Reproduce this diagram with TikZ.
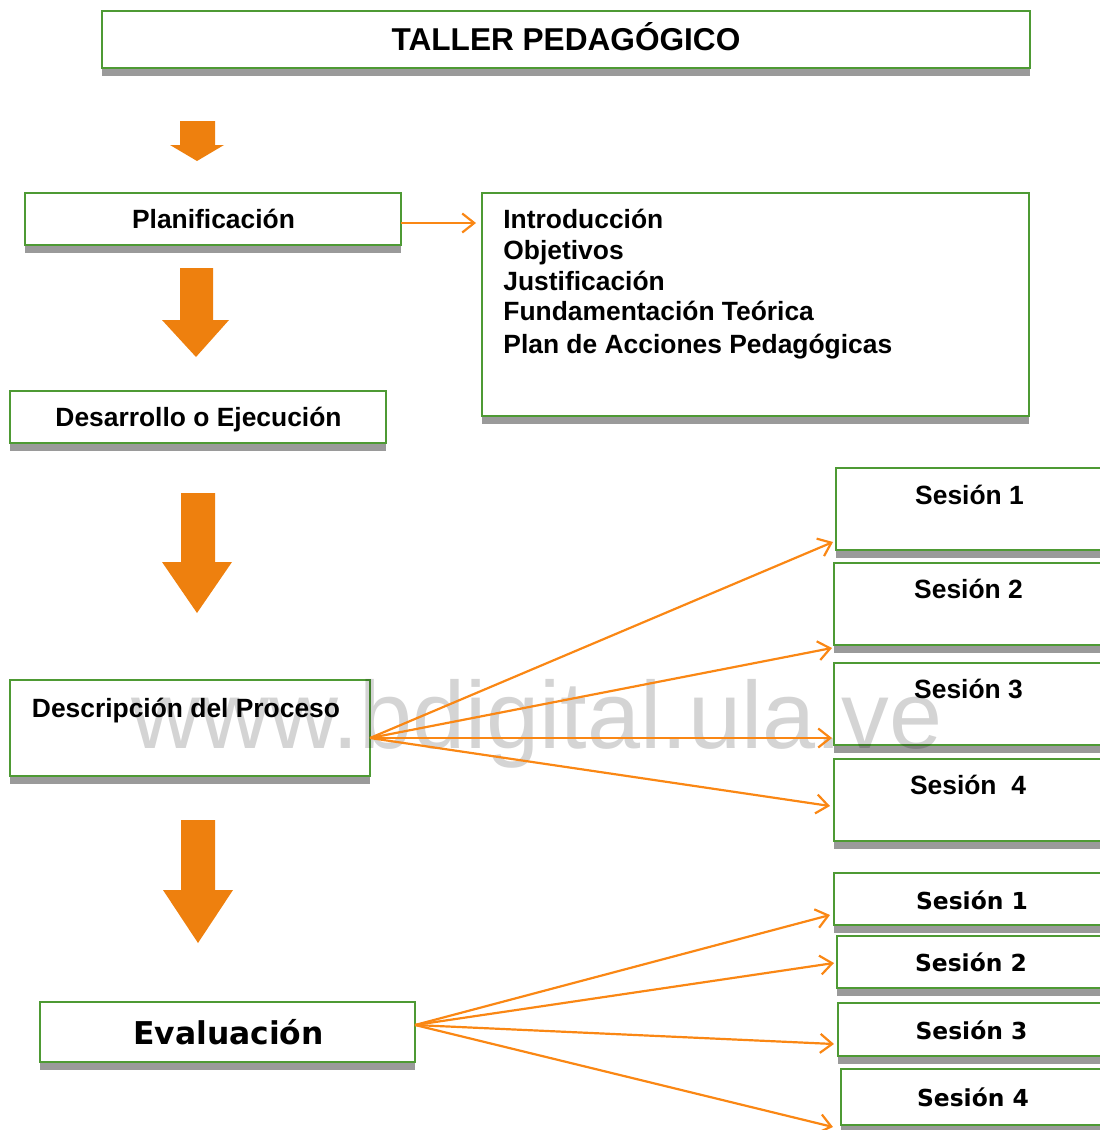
\documentclass[tikz,border=0pt]{standalone}
\usepackage{fontspec}
\setmainfont{Liberation Sans}
\newfontfamily\dejavu{DejaVu Sans}
\usetikzlibrary{shadows,arrows.meta,calc}
\definecolor{boxgreen}{RGB}{78,154,52}
\definecolor{shadowgray}{RGB}{154,154,154}
\definecolor{connorange}{RGB}{250,135,20}
\definecolor{fatorange}{RGB}{238,128,14}
\tikzset{
  box/.style={draw=boxgreen, line width=1pt, fill=white, inner sep=0pt, outer sep=0pt,
    drop shadow={shadow xshift=0pt, shadow yshift=-4pt, fill=shadowgray, opacity=1}},
  lab/.style={inner sep=0pt, anchor=base, font=\bfseries\fontsize{13.2}{15.6}\selectfont},
  labl/.style={lab, anchor=base west},
  dlab/.style={inner sep=0pt, anchor=base, font=\dejavu\bfseries\fontsize{11.7}{14}\selectfont},
  conn/.style={draw=connorange, line width=1.1pt, -{Straight Barb[length=6pt,width=9.5pt,line width=1.1pt]}},
  fat/.style={fill=fatorange}
}
\begin{document}
\begin{tikzpicture}[x=0.5pt,y=-0.5pt]
\useasboundingbox (0,0) rectangle (1099,1130);

% boxes
\node[box, minimum width=464pt, minimum height=28.5pt] (title) at (566,39.5) {};
\node[box, minimum width=188pt, minimum height=26pt] (plan) at (213,219) {};
\node[box, minimum width=273.5pt, minimum height=111.5pt] (intro) at (755.5,304.5) {};
\node[box, minimum width=188pt, minimum height=26pt] (desa) at (198,417) {};
\node[box, minimum width=180pt, minimum height=48pt] (desc) at (190,728) {};
\node[box, minimum width=137pt, minimum height=41pt] (s1) at (973,509) {};
\node[box, minimum width=138pt, minimum height=41pt] (s2) at (972,604) {};
\node[box, minimum width=138pt, minimum height=41pt] (s3) at (972,704) {};
\node[box, minimum width=138pt, minimum height=41pt] (s4) at (972,800) {};
\node[box, minimum width=187.5pt, minimum height=30pt] (eval) at (227.5,1032) {};
\node[box, minimum width=138pt, minimum height=26pt] (l1) at (972,899) {};
\node[box, minimum width=136.5pt, minimum height=26pt] (l2) at (973.5,962) {};
\node[box, minimum width=136pt, minimum height=26.5pt] (l3) at (974,1029.5) {};
\node[box, minimum width=134.5pt, minimum height=28pt] (l4) at (975.5,1097) {};

% texts
\node[lab, font=\bfseries\fontsize{15.8}{18}\selectfont] (ttitle) at (566,50) {TALLER PEDAG\'OGICO};
\node[lab] (tplan) at (213.5,228.5) {Planificación};
\node[labl] (ti1) at (503,228) {Introducción};
\node[labl] (ti2) at (503,259) {Objetivos};
\node[labl] (ti3) at (503,290) {Justificación};
\node[labl] (ti4) at (503,320) {Fundamentación Teórica};
\node[labl] (ti5) at (503,353) {Plan de Acciones Pedagógicas};
\node[lab] (tdesa) at (198.5,426) {Desarrollo o Ejecución};
\node[lab] (tdesc) at (186,717) {Descripción del Proceso};
\node[lab] (ts1) at (969.5,504) {Sesión 1};
\node[lab] (ts2) at (968.5,598) {Sesión 2};
\node[lab] (ts3) at (968.5,698) {Sesión 3};
\node[lab] (ts4) at (968,794) {Sesión\ \ 4};
\node[inner sep=0pt, anchor=base, font=\dejavu\bfseries\fontsize{15.7}{18}\selectfont] (teval) at (228.5,1044) {Evaluación};
\node[dlab] (tl1) at (972,909.5) {Sesión 1};
\node[dlab] (tl2) at (971,971.5) {Sesión 2};
\node[dlab] (tl3) at (971.5,1039.5) {Sesión 3};
\node[dlab] (tl4) at (973,1106.5) {Sesión 4};

% fat arrows
\fill[fat] (180,121) -- (215,121) -- (215,145) -- (224,145) -- (197,161) -- (170,145) -- (180,145) -- cycle;
\fill[fat] (180,268) -- (213,268) -- (213,320) -- (229,320) -- (196,357) -- (162,320) -- (180,320) -- cycle;
\fill[fat] (181,493) -- (215,493) -- (215,562) -- (232,562) -- (197,613) -- (162,562) -- (181,562) -- cycle;
\fill[fat] (181,820) -- (215,820) -- (215,890) -- (233,890) -- (198,943) -- (163,890) -- (181,890) -- cycle;

% watermark
\node[anchor=base west, inner sep=0pt, text=black, text opacity=0.17, font=\fontsize{47.7}{50}\selectfont] (wm) at (131,748) {www.bdigital.ula.ve};

% connectors
\draw[conn, shorten >=3pt] ([yshift=-2pt]plan.east) -- ([yshift=-2pt]plan.east -| intro.west);

\draw[conn] ([yshift=-5pt]desc.east) -- ([shift={(-1.5pt,4pt)}]s1.south west);
\draw[conn] ([yshift=-5pt]desc.east) -- ([shift={(-1pt,-1.5pt)}]s2.south west);
\draw[conn] ([yshift=-5pt]desc.east) -- ([shift={(-1pt,3.5pt)}]s3.south west);
\draw[conn] ([yshift=-5pt]desc.east) -- ([shift={(-2pt,-3pt)}]s4.west);

\draw[conn] ([yshift=3.5pt]eval.east) -- ([shift={(-2pt,5pt)}]l1.south west);
\draw[conn] ([yshift=3.5pt]eval.east) -- ([shift={(-1.5pt,-0.5pt)}]l2.west);
\draw[conn] ([yshift=3.5pt]eval.east) -- ([shift={(-2pt,-7.25pt)}]l3.west);
\draw[conn] ([yshift=3.5pt]eval.east) -- ([shift={(-4pt,-1pt)}]l4.south west);
\end{tikzpicture}
\end{document}
